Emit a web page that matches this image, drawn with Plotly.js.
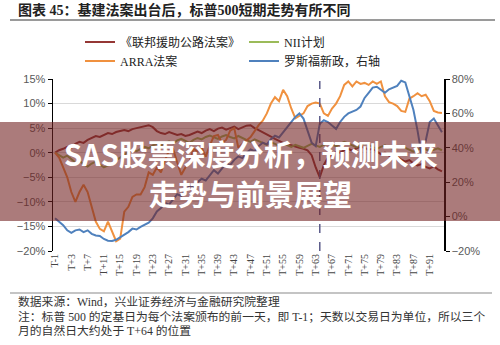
<!DOCTYPE html>
<html>
<head>
<meta charset="utf-8">
<script src="https://cdn.plot.ly/plotly-3.0.1.min.js"></script>
<style>html,body{margin:0;padding:0;background:#fff;}#chart{width:500px;height:345px;}</style>
</head>
<body>
<div id="chart"></div>
<script>
// Trading-day offsets T-1 ... T+94
const days = [];
for (let d = -1; d <= 94; d++) days.push(d);

const tickDays = [-1,3,7,11,15,19,23,27,31,35,39,43,47,51,55,59,63,67,71,75,79,83,87,91];
const tickLabels = ["T-1","T+3","T+7","T+11","T+15","T+19","T+23","T+27","T+31","T+35","T+39","T+43","T+47","T+51","T+55","T+59","T+63","T+67","T+71","T+75","T+79","T+83","T+87","T+91"];

const seriesNames = ["《联邦援助公路法案》", "NII计划", "ARRA法案", "罗斯福新政，右轴"];

// 《联邦援助公路法案》 (left axis, %)
const highway = [0,0.5,0.8,1.2,1.0,1.8,2.2,2.0,2.6,3.0,3.4,3.2,3.6,4.0,3.8,4.2,4.4,4.6,4.4,4.8,5.0,5.2,5.4,5.6,5.2,4.4,4.0,3.8,4.2,3.9,3.6,3.8,3.4,3.6,4.0,4.3,4.0,4.5,4.8,4.4,4.9,5.1,4.7,5.0,5.3,4.8,5.2,5.5,5.6,5.0,4.6,4.2,3.8,3.3,2.8,2.4,2.0,1.6,1.5,1.2,1.0,0.8,0.5,-0.5,-3.0,-5.0,-2.5,-1.0,-0.5,0.2,0.0,0.5,0.8,0.4,0.9,1.2,1.0,0.6,0.8,0.2,-0.3,0.0,-0.6,-1.0,-0.8,-1.4,-1.8,-1.5,-2.2,-2.6,-2.3,-2.9,-3.2,-2.8,-3.4,-3.8];

// NII计划 (left axis, %)
const nii = [0,-0.5,-1.0,-0.6,-1.4,-2.0,-1.6,-2.4,-2.8,-2.2,-1.8,-2.5,-3.0,-2.6,-2.0,-1.5,-1.0,-0.4,0.2,0.6,0.3,0.8,1.2,0.9,1.5,1.8,1.4,2.0,2.3,1.9,2.5,2.8,2.4,2.0,2.6,3.0,2.7,3.2,3.5,3.1,2.8,3.3,3.6,3.2,2.9,3.4,3.0,2.6,2.2,2.7,2.4,2.0,1.6,2.1,1.8,1.4,1.9,1.5,1.2,1.6,1.3,1.0,1.4,1.8,1.5,1.2,1.6,2.0,1.7,1.3,1.8,2.2,1.9,1.5,1.1,1.5,1.9,1.6,1.2,0.8,1.2,1.5,1.1,0.7,1.0,1.4,1.0,0.6,0.2,0.6,1.0,0.7,0.3,0.6,0.9,0.5];

// ARRA法案 (left axis, %)
const arra = [0,-1,-3,-5,-8,-10,-8,-6.5,-8,-11,-14,-15.5,-16,-14,-16,-18,-17.5,-12,-11,-9,-8.5,-8.5,-7,-4,-4.5,-3,-4,-1.5,0.5,0.7,-2,-4.5,-3,-1.8,0.8,0.3,1.0,-0.8,1.5,3.4,3.6,2.0,2.6,4.5,5.0,1.0,1.8,2.5,3.2,4.4,5.6,6.5,8,10,11.3,10.5,12.8,11.5,9,7,7.5,8,9.5,10,10.2,10,8,7.5,9,10,11.5,13.8,14.5,13.5,14.5,14,14.2,13.8,14.5,14,14.5,11.5,10.3,10,9.5,8.5,8.3,11,11.5,12.1,11.5,11.8,10.5,8.5,8.2,8.1];

// 罗斯福新政 (right axis, %)
const newDeal = [-1,-3,-5,-8,-9.5,-8,-7.5,-9,-8,-10,-11,-11.3,-13,-14,-14.2,-13.5,-12,-11,-9,-7,-7.5,-6,-4.5,-3.5,-1,3,5,8,7,10,13,12,15,18,17,20,22,21,24,27,25,28,31,30,33,35,34,37,39,38,41,43,42,45,47,46,49,52,55,58,60,57,50,43,41,54,56,55,53,51,55,58,60,61,62,64,69,72,75,75.5,74,72,74,75,76,79,78,70,62,50,36,44,55,57,53,49];

const W = 500, H = 345, L = 53, R = 56, T = 79, B = 94;
const PW = W - L - R, PH = H - T - B;
const px = v => (v - L) / PW;      // pixel x -> paper x
const py = v => (H - B - v) / PH;  // pixel y -> paper y

const cjk = '"Noto Sans CJK SC", "Noto Sans", sans-serif';
const serifCjk = '"Liberation Serif", "Noto Sans CJK SC", serif';

const colors = ["#953735", "#9BBB59", "#F0913F", "#4F81BD"];
const dataSets = [highway, nii, arra, newDeal];
const legendOf = ['legend', 'legend2', 'legend', 'legend2'];

const traces = dataSets.map((vals, i) => ({
  type: 'scatter', mode: 'lines',
  x: days, y: vals,
  name: seriesNames[i],
  yaxis: i === 3 ? 'y2' : 'y',
  legend: legendOf[i],
  line: {color: colors[i], width: 2},
  hoverinfo: 'skip'
}));

const legendFont = {family: serifCjk, size: 12, color: '#222'};

const layout = {
  width: W, height: H,
  margin: {l: L, r: R, t: T, b: B, pad: 0},
  paper_bgcolor: '#fff', plot_bgcolor: '#fff',
  showlegend: true,
  title: {
    text: '图表 45：基建法案出台后，标普500短期走势有所不同',
    font: {family: serifCjk, size: 14, color: '#222', weight: 'bold'},
    x: 18 / W, xanchor: 'left', xref: 'container',
    y: 1 - 10 / H, yanchor: 'middle', yref: 'container'
  },
  legend: {
    orientation: 'v',
    x: px(80), xanchor: 'left',
    y: py(27.5), yanchor: 'top',
    font: legendFont, bgcolor: 'rgba(0,0,0,0)', itemwidth: 30, tracegroupgap: 0
  },
  legend2: {
    orientation: 'v',
    x: px(244), xanchor: 'left',
    y: py(27.5), yanchor: 'top',
    font: legendFont, bgcolor: 'rgba(0,0,0,0)', itemwidth: 30, tracegroupgap: 0
  },
  xaxis: {
    range: [-1.5, 94.5],
    tickmode: 'array', tickvals: tickDays, ticktext: tickLabels,
    tickangle: -90,
    tickfont: {family: '"Liberation Serif", serif', size: 10, color: '#444'},
    showgrid: false, zeroline: false, showline: false, ticks: ''
  },
  yaxis: {
    range: [-20, 15], dtick: 5, tick0: -20, ticksuffix: '%',
    showgrid: true, gridcolor: '#d9d9d9', gridwidth: 1,
    zeroline: false, showline: true, linecolor: '#000', linewidth: 1.5,
    ticks: 'outside', ticklen: 4, tickcolor: '#000',
    tickfont: {family: 'Liberation Sans, Arial, sans-serif', size: 11, color: '#595959'}
  },
  yaxis2: {
    range: [-20, 80], dtick: 20, tick0: -20, ticksuffix: '%',
    overlaying: 'y', side: 'right',
    showgrid: false, zeroline: false, showline: true, linecolor: '#000', linewidth: 1.5,
    ticks: 'outside', ticklen: 4, tickcolor: '#000',
    tickfont: {family: 'Liberation Sans, Arial, sans-serif', size: 11, color: '#595959'}
  },
  shapes: [
    {type: 'line', xref: 'paper', yref: 'paper', x0: px(10), x1: px(495), y0: py(20), y1: py(20),
     line: {color: '#9a9a9a', width: 2}},
    {type: 'line', xref: 'x', yref: 'paper', x0: 64, x1: 64, y0: py(251), y1: py(81),
     line: {color: '#5b5b8a', width: 1.5, dash: 'dash'}, layer: 'above'},
    {type: 'line', xref: 'paper', yref: 'paper', x0: px(10), x1: px(492), y0: py(293), y1: py(293),
     line: {color: '#8a8a8a', width: 1.2}},
    {type: 'rect', xref: 'paper', yref: 'paper', x0: px(0), x1: px(500), y0: py(221), y1: py(122),
     fillcolor: 'rgba(115,35,35,0.6)', line: {width: 0}, layer: 'above'}
  ],
  annotations: [
    {text: 'SAS股票深度分析，预测未来', xref: 'paper', yref: 'paper', x: px(251), y: py(153),
     xanchor: 'center', yanchor: 'middle', showarrow: false,
     font: {family: cjk, size: 29, color: '#fff', weight: 'bold'}},
    {text: '走势与前景展望', xref: 'paper', yref: 'paper', x: px(250), y: py(192.5),
     xanchor: 'center', yanchor: 'middle', showarrow: false,
     font: {family: cjk, size: 29, color: '#fff', weight: 'bold'}},
    {text: '数据来源：Wind，兴业证券经济与金融研究院整理', xref: 'paper', yref: 'paper', x: px(16), y: py(302),
     xanchor: 'left', yanchor: 'middle', showarrow: false,
     font: {family: serifCjk, size: 11.8, color: '#333'}},
    {text: '注：标普 500 的定基日为每个法案颁布的前一天，即 T-1；天数以交易日为单位，所以三个', xref: 'paper', yref: 'paper', x: px(16), y: py(317),
     xanchor: 'left', yanchor: 'middle', showarrow: false,
     font: {family: serifCjk, size: 11.8, color: '#333'}},
    {text: '月的自然日大约处于 T+64 的位置', xref: 'paper', yref: 'paper', x: px(16), y: py(331),
     xanchor: 'left', yanchor: 'middle', showarrow: false,
     font: {family: serifCjk, size: 11.8, color: '#333'}}
  ]
};

Plotly.newPlot('chart', traces, layout, {staticPlot: true, displayModeBar: false});
</script>
</body>
</html>
